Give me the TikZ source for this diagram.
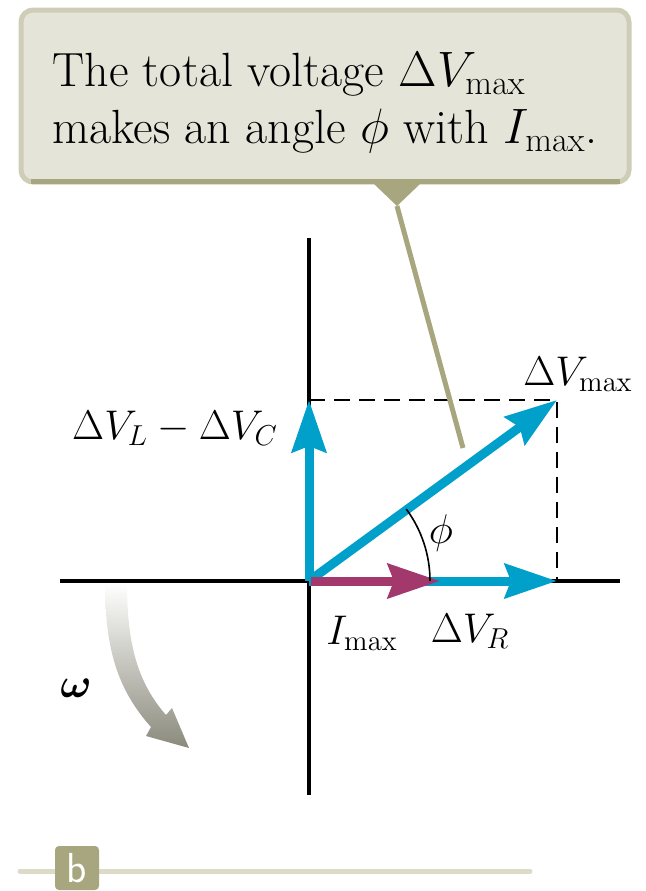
\documentclass[tikz,border=0pt]{standalone}
\usepackage{amsmath}
\usepackage{tikz}
\usetikzlibrary{positioning, arrows.meta, calc}
\definecolor{phasor}{HTML}{00A0CB}
\definecolor{current}{HTML}{A2386B}
\definecolor{callfill}{HTML}{E5E4D9}
\definecolor{callrim}{HTML}{CFCDB8}
\definecolor{olive}{HTML}{A8A67F}
\definecolor{rulecol}{HTML}{DCDBC8}
\definecolor{spin}{HTML}{8A8A7C}
\tikzset{
  axis/.style    = {line width=2pt, draw=black},
  vec/.style     = {line width=4.5pt, draw=phasor,
                    -{Stealth[length=26pt,width=17pt,inset=3pt]}},
  ivec/.style    = {line width=4.5pt, draw=current,
                    -{Stealth[length=26pt,width=17pt,inset=3pt]}},
  guide/.style   = {dash pattern=on 8pt off 4.5pt, line width=1.4pt, draw=black},
  lbl/.style     = {font=\fontsize{21.5}{25}\selectfont, inner sep=0pt},
  notebox/.style = {rectangle, rounded corners=6pt, draw=callrim, line width=2.5pt,
                    fill=callfill, minimum width=304pt, minimum height=86pt,
                    align=left, font=\fontsize{24}{28.5}\selectfont},
  tagbox/.style  = {rectangle, rounded corners=2pt, fill=olive, text=white,
                    minimum width=22pt, minimum height=22pt, inner sep=0pt,
                    font=\sffamily\fontsize{21}{21}\selectfont},
}

\begin{document}
\begin{tikzpicture}[x=0.5pt, y=-0.5pt]
  \useasboundingbox (0,0) rectangle (645,891);

  % callout
  \node[notebox] (note) at (325,96)
       {\rule{0pt}{24pt}The total voltage $\Delta V_{\mathrm{max}}$\\
        makes an angle $\phi$ with $I_{\mathrm{max}}$.};
  \draw[olive, line width=2.2pt] ($(note.south west)+(12,-3)$) -- ($(note.south east)+(-12,-3)$);
  \coordinate (pin) at (397,206);
  \coordinate (tail) at (463,448);
  \fill[olive] (374,184) -- (420,184) -- (pin) -- cycle;

  % axes
  \coordinate (O) at (309,581);
  \coordinate (ytop) at (309,238);
  \coordinate (ybot) at (309,795);
  \coordinate (xl) at (60,581);
  \coordinate (xr) at (620,581);
  \draw[axis] (ytop) -- (ybot);
  \draw[axis] (xl) -- (xr);

  % phasors
  \coordinate (R) at (557,581);
  \coordinate (LC) at (309,400);
  \coordinate (M) at (557,400);
  \coordinate (I) at (440,581);
  \draw[guide] (LC) -- (M) -- (R);
  \draw[olive, line width=2.5pt] (pin) -- (tail);
  \draw[vec] (O) -- (LC);
  \draw[vec] (O) -- (M);
  \draw[vec] (O) -- (R);
  \draw[ivec] ($(O)+(2,0)$) -- (I);
  \draw[line width=0.8pt] ($(O)+(0:121)$) arc[start angle=0, end angle=-36.5, radius=121];

  % labels
  \node[lbl] (lmax) at (578,374) {$\Delta V_{\mathrm{max}}$};
  \node[lbl] (llc) at (175,428) {$\Delta V_L - \Delta V_C$};
  \node[lbl] (lphi) at (441,533) {$\phi$};
  \node[lbl] (limax) at (362,633) {$I_{\mathrm{max}}$};
  \node[lbl] (lr) at (470,631) {$\Delta V_R$};
  \node[lbl] (lw) at (76,688) {$\boldsymbol{\omega}$};

  % rotation arrow
  \shade[top color=white, middle color=spin!80, bottom color=spin]
    (105,583) .. controls (105,650) and (118,690) .. (151,727)
    -- (146,736) -- (189,748) -- (172,708) -- (166,715)
    .. controls (138,683) and (127,645) .. (127,583) -- cycle;

  % panel tag
  \coordinate (rl) at (20,871);
  \coordinate (rr) at (530,871);
  \draw[rulecol, line width=2.5pt, line cap=round] (rl) -- (rr);
  \node[tagbox] (tag) at (77,868) {b};
\end{tikzpicture}
\end{document}
